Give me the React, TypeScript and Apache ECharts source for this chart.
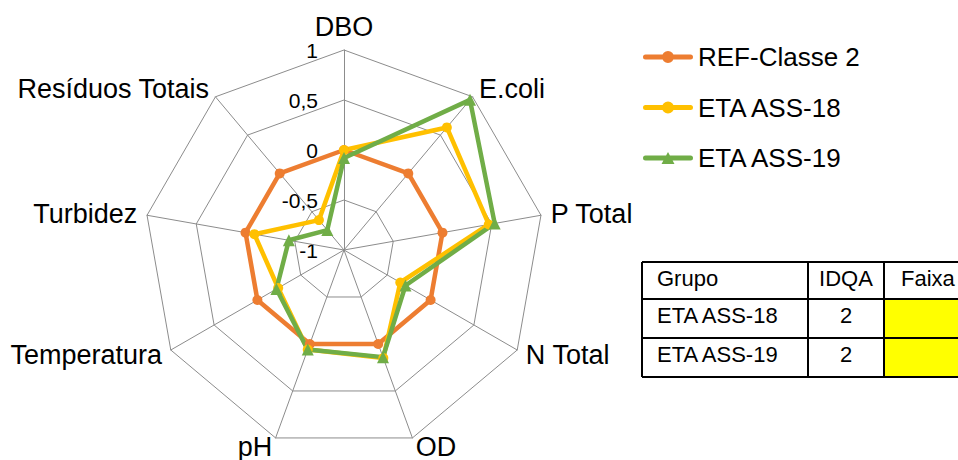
import React, { useEffect, useRef } from "react";
import * as echarts from "echarts";

// Water-quality indicators, clockwise from the top
const indicators = [
  "DBO",
  "E.coli",
  "P Total",
  "N Total",
  "OD",
  "pH",
  "Temperatura",
  "Turbidez",
  "Resíduos Totais",
];

const seriesNames = ["REF-Classe 2", "ETA ASS-18", "ETA ASS-19"];
const refClasse2 = [0, 0, 0, 0, 0, 0, 0, 0, 0];
const etaAss18 = [0, 0.6, 0.47, -0.35, 0.15, 0.06, -0.24, -0.09, -0.61];
const etaAss19 = [-0.08, 0.96, 0.53, -0.29, 0.14, 0.06, -0.22, -0.44, -0.74];

const scaleMin = -1;
const scaleMax = 1;
const tickValues = [1, 0.5, 0, -0.5, -1];

// IDQA summary table
const tableHeader = ["Grupo", "IDQA", "Faixa"];
const tableGroups = ["ETA ASS-18", "ETA ASS-19"];
const tableIdqa = [2, 2];
const tableBand = ["#FFFF00", "#FFFF00"];

const FONT = "'Liberation Sans', Arial, sans-serif";
const COLORS = ["#ED7D31", "#FFC000", "#70AD47"];

const CX = 344;
const CY = 250;
const R = 200;

// ECharts lays radar indicators out counter-clockwise; reorder so they run clockwise
const order = indicators.map((_, i) => (i === 0 ? 0 : indicators.length - i));
const cw = <T,>(arr: T[]): T[] => order.map((k) => arr[k]);

// legend icons: a rounded line with the series marker in the middle
const LINE_PART = "M2.5 3.5 H47.5 A2.5 2.5 0 0 1 47.5 8.5 H2.5 A2.5 2.5 0 0 1 2.5 3.5 Z ";
const ICON_CIRCLE = "path://" + LINE_PART + "M25 0 A6 6 0 1 1 25 12 A6 6 0 1 1 25 0 Z";
const ICON_TRIANGLE = "path://" + LINE_PART + "M25 0 L31.5 12 L18.5 12 Z";

function fmt(v: number): string {
  return String(v).replace(".", ",");
}

function buildTable(): any[] {
  const x0 = 642;
  const colX = [642, 808, 884, 962];
  const rowY = [262, 299, 338, 377];
  const els: any[] = [];
  // yellow band cells
  tableBand.forEach((c, i) => {
    els.push({
      type: "rect",
      shape: { x: colX[2], y: rowY[i + 1], width: colX[3] - colX[2], height: rowY[i + 2] - rowY[i + 1] },
      style: { fill: c },
    });
  });
  // grid lines
  rowY.forEach((y) => {
    els.push({ type: "line", shape: { x1: x0, y1: y, x2: colX[3], y2: y }, style: { stroke: "#000", lineWidth: 2 } });
  });
  colX.forEach((x) => {
    els.push({ type: "line", shape: { x1: x, y1: rowY[0], x2: x, y2: rowY[3] }, style: { stroke: "#000", lineWidth: 2 } });
  });
  const textStyle = { fill: "#000", fontSize: 22, fontFamily: FONT, verticalAlign: "middle" };
  const rowsText: string[][] = [tableHeader, ...tableGroups.map((g, i) => [g, String(tableIdqa[i]), ""])];
  rowsText.forEach((row, r) => {
    const y = rowY[r] + 16;
    els.push({ type: "text", x: colX[0] + 15, y, style: { ...textStyle, text: row[0], align: "left" } });
    els.push({ type: "text", x: (colX[1] + colX[2]) / 2, y, style: { ...textStyle, text: row[1], align: "center" } });
    if (row[2]) {
      els.push({ type: "text", x: colX[2] + 17, y, style: { ...textStyle, text: row[2], align: "left" } });
    }
  });
  return els;
}

function buildTickLabels(): any[] {
  return tickValues.map((v) => ({
    type: "text",
    x: CX - 26,
    y: CY - ((v - scaleMin) / (scaleMax - scaleMin)) * R,
    style: {
      text: fmt(v),
      fill: "#000",
      fontSize: 21,
      fontFamily: FONT,
      align: "right",
      verticalAlign: "middle",
    },
  }));
}

export default function App() {
  const ref = useRef<HTMLDivElement>(null);

  useEffect(() => {
    if (!ref.current) return;
    const chart = echarts.init(ref.current, undefined, { renderer: "svg" });
    const values = [refClasse2, etaAss18, etaAss19];
    const symbols = ["circle", "circle", "triangle"];
    const symbolSizes = [10, 10, 12];

    chart.setOption({
      animation: false,
      backgroundColor: "#fff",
      legend: {
        orient: "vertical",
        left: 643,
        top: 44,
        padding: 0,
        itemWidth: 50,
        itemHeight: 12,
        itemGap: 24.5,
        itemStyle: { borderWidth: 0 },
        textStyle: { fontSize: 26, fontFamily: FONT, color: "#000" },
        data: seriesNames.map((n, i) => ({
          name: n,
          icon: symbols[i] === "triangle" ? ICON_TRIANGLE : ICON_CIRCLE,
        })),
      },
      radar: {
        center: [CX, CY],
        radius: R,
        startAngle: 90,
        splitNumber: 4,
        shape: "polygon",
        nameGap: 10,
        axisName: { color: "#000", fontSize: 27, fontFamily: FONT },
        axisLine: { lineStyle: { color: "#8c8c8c", width: 1 } },
        splitLine: { lineStyle: { color: "#8c8c8c", width: 1 } },
        splitArea: { show: false },
        axisTick: { show: false },
        axisLabel: { show: false },
        indicator: cw(indicators).map((name) => ({ name, min: scaleMin, max: scaleMax })),
      },
      graphic: [...buildTickLabels(), ...buildTable()],
      series: [
        {
          type: "radar",
          z: 3,
          data: seriesNames.map((name, i) => ({
            name,
            value: cw(values[i]),
            symbol: symbols[i],
            symbolSize: symbolSizes[i],
            itemStyle: { color: COLORS[i] },
            lineStyle: { color: COLORS[i], width: 4.5 },
          })),
        },
      ],
    });

    return () => chart.dispose();
  }, []);

  return (
    <div
      ref={ref}
      style={{ position: "fixed", left: 0, top: 0, width: 958, height: 460 }}
    />
  );
}
